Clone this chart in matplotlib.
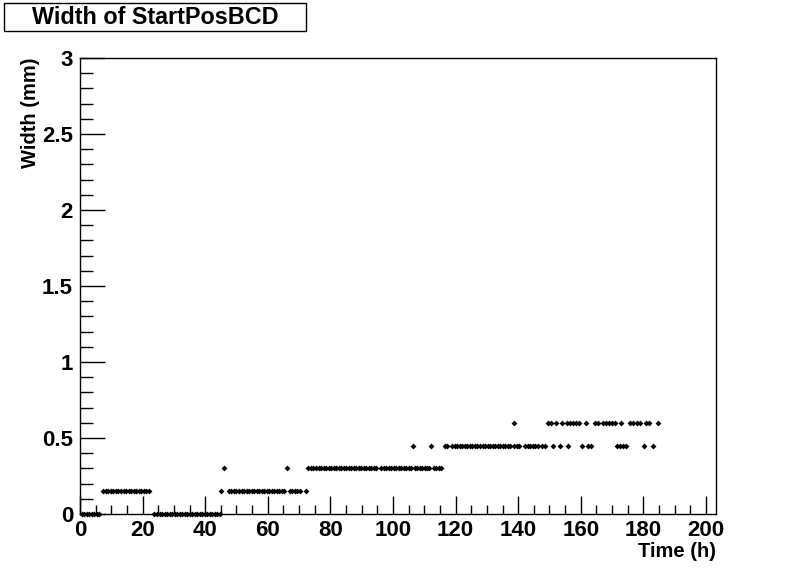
import matplotlib
matplotlib.use("Agg")
import matplotlib.pyplot as plt
from matplotlib.patches import Rectangle
from matplotlib.ticker import MultipleLocator

plt.rcParams['font.family'] = ['Liberation Sans', 'DejaVu Sans']
plt.rcParams['font.weight'] = 'bold'

# width levels (mm) and the times (h) at which each level was measured
t_w000 = [0.5, 1.3, 2.1, 2.9, 3.7, 4.5, 5.3, 6.2,
          23.8, 24.6, 25.4, 26.2, 27.0, 27.8, 28.6, 29.4, 30.2, 31.0, 31.8, 32.6,
          33.4, 34.2, 35.0, 35.8, 36.6, 37.4, 38.2, 39.0, 39.8, 40.6, 41.4, 42.2,
          43.0, 43.8, 44.6]
t_w015 = [7.5, 8.3, 9.1, 9.9, 10.7, 11.5, 12.3, 13.1, 13.9, 14.7, 15.5, 16.3,
          17.1, 17.9, 18.7, 19.5, 20.3, 21.1, 21.9,
          45.2, 47.6, 48.4, 49.2, 50.0, 50.8, 51.6, 52.4, 53.2, 54.0, 54.8, 55.6,
          56.4, 57.2, 58.0, 58.8, 59.6, 60.4, 61.2, 62.0, 62.8, 63.6, 64.4, 65.2,
          67.0, 67.8, 68.6, 69.4, 70.2, 72.1]
t_w030 = [46.0, 66.0,
          73.0, 73.8, 74.6, 75.4, 76.2, 77.0, 77.8, 78.6, 79.4, 80.2, 81.0, 81.8,
          82.6, 83.4, 84.2, 85.0, 85.8, 86.6, 87.4, 88.2, 89.0, 89.8, 90.6, 91.4,
          92.2, 93.0, 93.8, 94.6, 96.2, 97.0, 97.8, 98.6, 99.4, 100.2, 101.0,
          101.8, 102.6, 103.4, 104.2, 105.0, 105.6, 107.0, 107.8, 108.6, 109.4,
          110.2, 111.0, 111.6, 113.0, 113.8, 114.6, 115.4]
t_w045 = [106.3, 112.3, 116.5, 117.4,
          119.0, 119.8, 120.6, 121.4, 122.2, 123.0, 123.8, 124.6, 125.4, 126.2,
          127.0, 127.8, 128.6, 129.4, 130.2, 131.0, 131.8, 132.6, 133.4, 134.2,
          135.0, 135.8, 136.6, 137.4, 138.8, 139.6, 140.4,
          142.2, 143.0, 143.8, 144.6, 145.4, 146.4, 147.6, 148.6, 151.2, 153.4,
          156.0, 160.3, 162.3, 163.3, 171.5, 172.6, 173.5, 174.4, 180.3, 183.2]
t_w060 = [138.7, 149.6, 150.4, 152.1, 153.9, 155.6, 156.5, 157.4, 158.4, 159.4,
          161.6, 164.5, 165.5, 167.0, 168.0, 169.0, 170.0, 171.0, 172.8, 175.7,
          176.8, 177.9, 179.0, 180.7, 181.8, 184.7]

series = [(t_w000, 0.0), (t_w015, 0.15), (t_w030, 0.30), (t_w045, 0.45), (t_w060, 0.60)]

W, H = 796, 572
fig = plt.figure(figsize=(W / 100, H / 100), dpi=100)
ax = fig.add_axes([80 / W, 1 - 514 / H, (716 - 80) / W, (514 - 58) / H])

for times, level in series:
    ax.plot(times, [level] * len(times), linestyle='none', marker='D',
            markersize=3, color='black', markeredgewidth=0, clip_on=False)

ax.set_xlim(0, 203.2)
ax.set_ylim(0, 3)
ax.xaxis.set_major_locator(MultipleLocator(20))
ax.xaxis.set_minor_locator(MultipleLocator(5))
ax.yaxis.set_minor_locator(MultipleLocator(0.1))
ax.set_yticks([0, 0.5, 1, 1.5, 2, 2.5, 3])
ax.set_yticklabels(['0', '0.5', '1', '1.5', '2', '2.5', '3'])
ax.tick_params(axis='both', which='both', direction='in', labelsize=16, width=1)
ax.tick_params(axis='x', which='major', length=13, pad=4)
ax.tick_params(axis='x', which='minor', length=6.5)
ax.tick_params(axis='y', which='major', length=18, pad=5)
ax.tick_params(axis='y', which='minor', length=9)
for lbl in ax.get_xticklabels() + ax.get_yticklabels():
    lbl.set_fontweight('bold')
for sp in ax.spines.values():
    sp.set_linewidth(1)

ax.set_xlabel('Time (h)', fontsize=14.5, fontweight='bold', loc='right', labelpad=1)
ax.set_ylabel('Width (mm)', fontsize=14.5, fontweight='bold', loc='top', labelpad=1.7)

# title box in the ROOT style
fig.patches.append(Rectangle((4 / W, 1 - 31 / H), 302 / W, 28 / H, transform=fig.transFigure,
                             facecolor='white', edgecolor='black', linewidth=1))
fig.text(155.5 / W, 1 - 17.5 / H, 'Width of StartPosBCD', ha='center', va='center',
         fontsize=16.8, fontweight='bold')

fig.savefig('out.png', dpi=100)
